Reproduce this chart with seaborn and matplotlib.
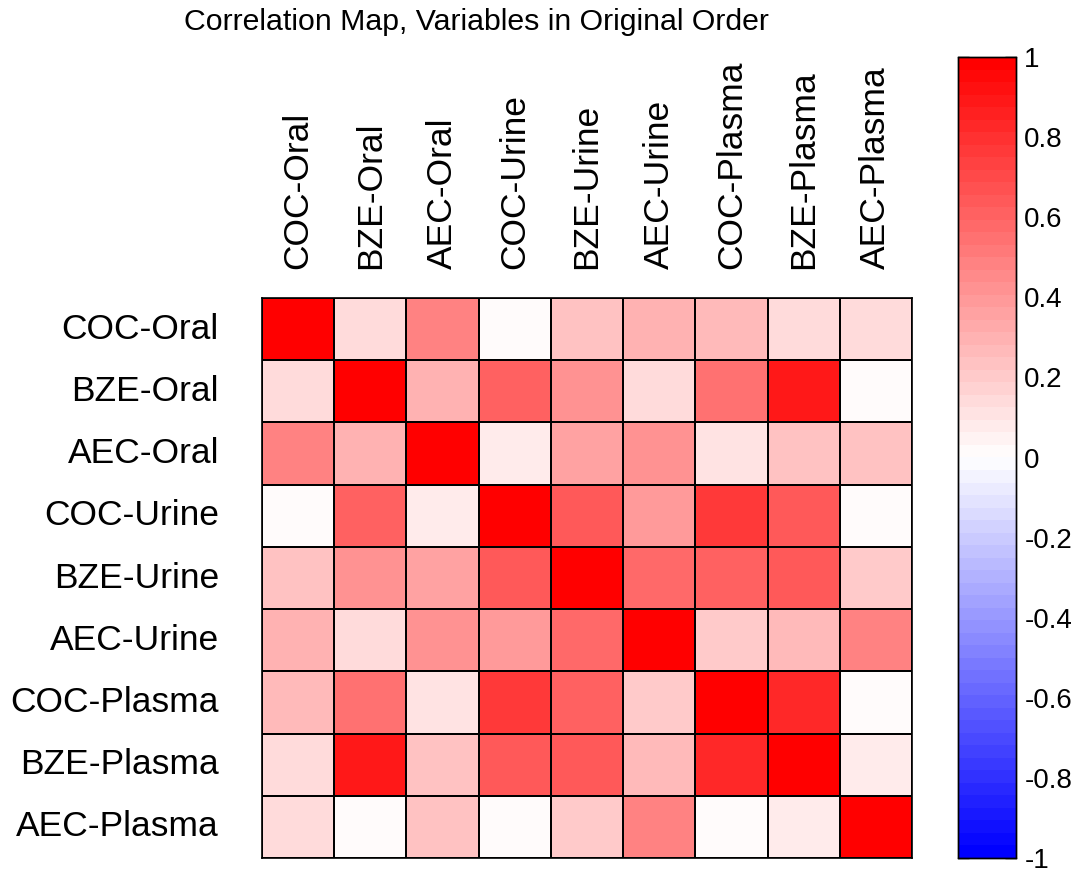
import numpy as np
import pandas as pd
import matplotlib
matplotlib.use("Agg")
import matplotlib.pyplot as plt
from matplotlib.colors import LinearSegmentedColormap
import seaborn as sns

variables = ["COC-Oral", "BZE-Oral", "AEC-Oral", "COC-Urine", "BZE-Urine",
             "AEC-Urine", "COC-Plasma", "BZE-Plasma", "AEC-Plasma"]

coc_oral   = [1.00, 0.15, 0.47, 0.03, 0.22, 0.29, 0.26, 0.15, 0.15]
bze_oral   = [0.15, 1.00, 0.30, 0.61, 0.42, 0.14, 0.54, 0.90, 0.03]
aec_oral   = [0.47, 0.30, 1.00, 0.07, 0.37, 0.43, 0.10, 0.22, 0.22]
coc_urine  = [0.03, 0.61, 0.07, 1.00, 0.65, 0.40, 0.78, 0.64, 0.00]
bze_urine  = [0.22, 0.42, 0.37, 0.65, 1.00, 0.57, 0.60, 0.64, 0.20]
aec_urine  = [0.29, 0.14, 0.43, 0.40, 0.57, 1.00, 0.20, 0.28, 0.48]
coc_plasma = [0.26, 0.54, 0.10, 0.78, 0.60, 0.20, 1.00, 0.83, 0.03]
bze_plasma = [0.15, 0.90, 0.22, 0.64, 0.64, 0.28, 0.83, 1.00, 0.08]
aec_plasma = [0.15, 0.03, 0.22, 0.00, 0.20, 0.48, 0.03, 0.08, 1.00]

cbar_ticks = [-1, -0.8, -0.6, -0.4, -0.2, 0, 0.2, 0.4, 0.6, 0.8, 1]
cbar_labels = ["-1", "-0.8", "-0.6", "-0.4", "-0.2", "0", "0.2", "0.4", "0.6", "0.8", "1"]

title = "Correlation Map, Variables in Original Order"

df = pd.DataFrame([coc_oral, bze_oral, aec_oral, coc_urine, bze_urine,
                   aec_urine, coc_plasma, bze_plasma, aec_plasma],
                  index=variables, columns=variables)

sns.set_style("white")
plt.rcParams['font.family'] = ['Liberation Sans', 'DejaVu Sans']
plt.rcParams['text.color'] = 'black'
plt.rcParams['xtick.color'] = 'black'
plt.rcParams['ytick.color'] = 'black'

cmap = LinearSegmentedColormap.from_list(
    "bwr_matlab", [(0, 0, 1), (1, 1, 1), (1, 0, 0)], N=64)

W, H = 1082, 871
fig = plt.figure(figsize=(W / 100, H / 100), dpi=100)
ax = fig.add_axes([262 / W, 1 - 858 / H, (912 - 262) / W, (858 - 298) / H])
cax = fig.add_axes([958 / W, 1 - 858 / H, (1016 - 958) / W, (858 - 57) / H])

sns.heatmap(df, ax=ax, cbar_ax=cax, cmap=cmap, vmin=-1, vmax=1,
            linewidths=1.2, linecolor="black", square=False)

for s in ax.spines.values():
    s.set_visible(True)
    s.set_color("black")
    s.set_linewidth(1.2)

ax.xaxis.tick_top()
ax.set_xticklabels(variables, rotation=90, fontsize=25.5, va="bottom",
                   ha="center", color="black")
ax.set_yticklabels(variables, rotation=0, fontsize=25.5, color="black")
ax.tick_params(axis="x", length=0, pad=21, top=True, bottom=False)
ax.tick_params(axis="y", length=0, pad=31)
ax.set_xlabel("")
ax.set_ylabel("")

cax.set_yticks(cbar_ticks)
cax.set_yticklabels(cbar_labels, fontsize=20, color="black")
cax.tick_params(axis="y", direction="in", left=True, right=True, length=8,
                width=1, pad=6, colors="black")
for s in cax.spines.values():
    s.set_visible(True)
    s.set_color("black")
    s.set_linewidth(1)

fig.text(476 / W, 1 - 22 / H, title, ha="center", va="center", fontsize=21.8,
         color="black")

fig.savefig("out.png", dpi=100, facecolor="white")
